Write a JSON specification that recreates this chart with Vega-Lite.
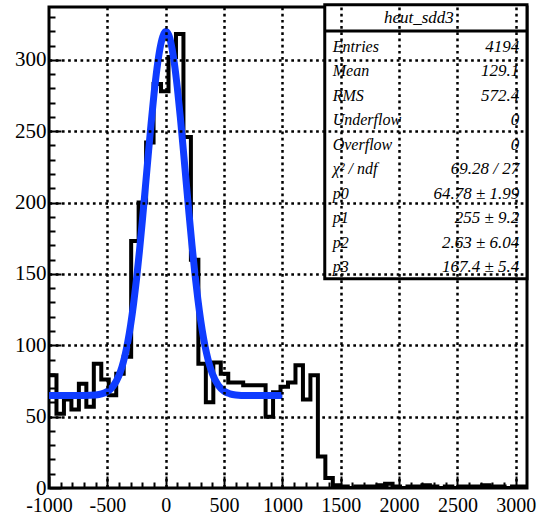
{
  "$schema": "https://vega.github.io/schema/vega-lite/v6.json",
  "width": 478,
  "height": 481,
  "autosize": {"type": "none"},
  "padding": {"left": 49, "top": 7, "right": 23, "bottom": 28},
  "background": "white",
  "config": {"view": {"stroke": "black", "strokeWidth": 3}, "font": "Liberation Serif"},
  "datasets": {
    "hist": [
      {"lo": -1000, "n": 79}, {"lo": -936, "n": 52}, {"lo": -872, "n": 62}, {"lo": -808, "n": 55},
      {"lo": -744, "n": 73}, {"lo": -680, "n": 57}, {"lo": -616, "n": 87}, {"lo": -552, "n": 76},
      {"lo": -488, "n": 65}, {"lo": -424, "n": 80}, {"lo": -360, "n": 92}, {"lo": -296, "n": 173},
      {"lo": -232, "n": 200}, {"lo": -168, "n": 242}, {"lo": -104, "n": 283}, {"lo": -40, "n": 278},
      {"lo": 24, "n": 302}, {"lo": 88, "n": 318}, {"lo": 152, "n": 246}, {"lo": 216, "n": 160},
      {"lo": 280, "n": 87}, {"lo": 344, "n": 60}, {"lo": 408, "n": 88}, {"lo": 472, "n": 80},
      {"lo": 536, "n": 74}, {"lo": 600, "n": 74}, {"lo": 664, "n": 72}, {"lo": 728, "n": 72},
      {"lo": 792, "n": 72}, {"lo": 856, "n": 50}, {"lo": 920, "n": 67}, {"lo": 984, "n": 71},
      {"lo": 1048, "n": 74}, {"lo": 1112, "n": 86}, {"lo": 1176, "n": 62}, {"lo": 1240, "n": 79},
      {"lo": 1304, "n": 22}, {"lo": 1368, "n": 7}, {"lo": 1432, "n": 2}, {"lo": 1496, "n": 1},
      {"lo": 1560, "n": 0}, {"lo": 1624, "n": 1}, {"lo": 1688, "n": 1}, {"lo": 1752, "n": 1},
      {"lo": 1816, "n": 2}, {"lo": 1880, "n": 3}, {"lo": 1944, "n": 1}, {"lo": 2008, "n": 0},
      {"lo": 2072, "n": 1}, {"lo": 2136, "n": 1}, {"lo": 2200, "n": 2}, {"lo": 2264, "n": 1},
      {"lo": 2328, "n": 0}, {"lo": 2392, "n": 1}, {"lo": 2456, "n": 0}, {"lo": 2520, "n": 1},
      {"lo": 2584, "n": 1}, {"lo": 2648, "n": 1}, {"lo": 2712, "n": 2}, {"lo": 2776, "n": 1},
      {"lo": 2840, "n": 1}, {"lo": 2904, "n": 0}, {"lo": 2968, "n": 1}, {"lo": 3032, "n": 1},
      {"lo": 3096, "n": 1}
    ],
    "fit": [
      {"x": -1000, "y": 64.78}, {"x": -800, "y": 64.78}, {"x": -700, "y": 64.82}, {"x": -600, "y": 65.17},
      {"x": -550, "y": 65.88}, {"x": -500, "y": 67.59}, {"x": -450, "y": 71.37}, {"x": -400, "y": 78.92},
      {"x": -375, "y": 84.8}, {"x": -350, "y": 92.51}, {"x": -325, "y": 102.34}, {"x": -300, "y": 114.54},
      {"x": -275, "y": 129.24}, {"x": -250, "y": 146.43}, {"x": -225, "y": 165.94}, {"x": -200, "y": 187.35},
      {"x": -175, "y": 210.01}, {"x": -150, "y": 233.05}, {"x": -125, "y": 255.46}, {"x": -100, "y": 276.09},
      {"x": -75, "y": 293.78}, {"x": -50, "y": 307.48}, {"x": -25, "y": 316.33}, {"x": 0, "y": 319.75},
      {"x": 25, "y": 317.51}, {"x": 50, "y": 309.77}, {"x": 75, "y": 297.03}, {"x": 100, "y": 280.09},
      {"x": 125, "y": 259.99}, {"x": 150, "y": 237.86}, {"x": 175, "y": 214.86}, {"x": 200, "y": 192.04},
      {"x": 225, "y": 170.31}, {"x": 250, "y": 150.35}, {"x": 275, "y": 132.65}, {"x": 300, "y": 117.42},
      {"x": 325, "y": 104.7}, {"x": 350, "y": 94.39}, {"x": 375, "y": 86.26}, {"x": 400, "y": 80.02},
      {"x": 450, "y": 71.95}, {"x": 500, "y": 67.87}, {"x": 550, "y": 66.0}, {"x": 600, "y": 65.22},
      {"x": 700, "y": 64.82}, {"x": 800, "y": 64.78}, {"x": 1000, "y": 64.78}
    ],
    "stats": [
      {"row": 1, "label": "Entries", "value": "4194"},
      {"row": 2, "label": "Mean", "value": "129.1"},
      {"row": 3, "label": "RMS", "value": "572.4"},
      {"row": 4, "label": "Underflow", "value": "0"},
      {"row": 5, "label": "Overflow", "value": "0"},
      {"row": 6, "label": "χ² / ndf", "value": "69.28 / 27"},
      {"row": 7, "label": "p0", "value": "64.78 ± 1.99"},
      {"row": 8, "label": "p1", "value": "255 ± 9.2"},
      {"row": 9, "label": "p2", "value": "2.63 ± 6.04"},
      {"row": 10, "label": "p3", "value": "167.4 ± 5.4"}
    ]
  },
  "layer": [
    {
      "layer": [
        {
          "data": {"values": [{}]},
          "mark": {"type": "rect", "fill": "white", "stroke": "black", "strokeWidth": 3},
          "encoding": {
            "x": {"datum": 1363, "type": "quantitative"},
            "x2": {"datum": 3096},
            "y": {"datum": 146.6, "type": "quantitative"},
            "y2": {"datum": 338.5}
          }
        },
        {
          "data": {"values": [{}]},
          "mark": {"type": "rule", "stroke": "black", "strokeWidth": 3},
          "encoding": {
            "x": {"datum": 1363, "type": "quantitative"},
            "x2": {"datum": 3096},
            "y": {"datum": 320.1, "type": "quantitative"}
          }
        },
        {
          "data": {"values": [{"title": "heut_sdd3"}]},
          "mark": {"type": "text", "font": "Liberation Serif", "fontStyle": "italic", "fontSize": 17, "align": "center", "baseline": "middle", "color": "black"},
          "encoding": {
            "x": {"datum": 2169, "type": "quantitative"},
            "y": {"datum": 329.5, "type": "quantitative"},
            "text": {"field": "title"}
          }
        },
        {
          "data": {"name": "hist"},
          "mark": {"type": "line", "interpolate": "step-after", "stroke": "black", "strokeWidth": 4, "clip": true},
          "encoding": {
            "x": {
              "field": "lo", "type": "quantitative",
              "scale": {"domain": [-1000, 3096], "nice": false, "zero": false},
              "axis": {
                "title": null, "domain": false, "zindex": 1, "tickCount": 1000,
                "values": [-1000,-900,-800,-700,-600,-500,-400,-300,-200,-100,0,100,200,300,400,500,600,700,800,900,1000,1100,1200,1300,1400,1500,1600,1700,1800,1900,2000,2100,2200,2300,2400,2500,2600,2700,2800,2900,3000],
                "labelExpr": "datum.value % 500 === 0 ? '' + datum.value : ''",
                "labelFont": "Liberation Serif", "labelFontSize": 20, "labelColor": "black",
                "labelPadding": 19, "labelFlush": false, "labelOverlap": false, "labelBound": false,
                "tickColor": "black", "tickWidth": 2,
                "tickSize": {"condition": {"test": "datum.value % 500 === 0", "value": -12}, "value": -6},
                "grid": true, "gridColor": "black", "gridWidth": 2.5, "gridDash": [2.7, 3.5],
                "gridOpacity": {"condition": {"test": "datum.value % 500 === 0 && datum.value > -1000", "value": 1}, "value": 0}
              }
            },
            "y": {
              "field": "n", "type": "quantitative",
              "scale": {"domain": [0, 337], "nice": false, "zero": false},
              "axis": {
                "title": null, "domain": false, "zindex": 1, "tickCount": 1000,
                "values": [0,10,20,30,40,50,60,70,80,90,100,110,120,130,140,150,160,170,180,190,200,210,220,230,240,250,260,270,280,290,300,310,320,330],
                "labelExpr": "datum.value % 50 === 0 ? '' + datum.value : ''",
                "labelFont": "Liberation Serif", "labelFontSize": 21, "labelColor": "black",
                "labelPadding": 15, "labelFlush": false, "labelOverlap": false, "labelBound": false,
                "tickColor": "black", "tickWidth": 2,
                "tickSize": {"condition": {"test": "datum.value % 50 === 0", "value": -12}, "value": -6},
                "grid": true, "gridColor": "black", "gridWidth": 2.5, "gridDash": [2.7, 3.5],
                "gridOpacity": {"condition": {"test": "datum.value % 50 === 0 && datum.value > 0", "value": 1}, "value": 0}
              }
            }
          }
        },
        {
          "data": {"name": "fit"},
          "mark": {"type": "line", "interpolate": "monotone", "stroke": "#0f3cff", "strokeWidth": 7, "clip": true},
          "encoding": {
            "x": {"field": "x", "type": "quantitative"},
            "y": {"field": "y", "type": "quantitative"}
          }
        }
      ]
    },
    {
      "data": {"name": "stats"},
      "encoding": {
        "y": {"field": "row", "type": "quantitative", "scale": {"domain": [-0.62, 19.013], "reverse": true, "nice": false, "zero": false}, "axis": null}
      },
      "layer": [
        {
          "mark": {"type": "text", "font": "Liberation Serif", "fontStyle": "italic", "fontSize": 16, "align": "left", "baseline": "middle", "color": "black"},
          "encoding": {"x": {"datum": 1431, "type": "quantitative"}, "text": {"field": "label"}}
        },
        {
          "mark": {"type": "text", "font": "Liberation Serif", "fontStyle": "italic", "fontSize": 17, "align": "right", "baseline": "middle", "color": "black"},
          "encoding": {"x": {"datum": 3030, "type": "quantitative"}, "text": {"field": "value"}}
        }
      ]
    }
  ],
  "resolve": {"scale": {"y": "independent"}}
}
